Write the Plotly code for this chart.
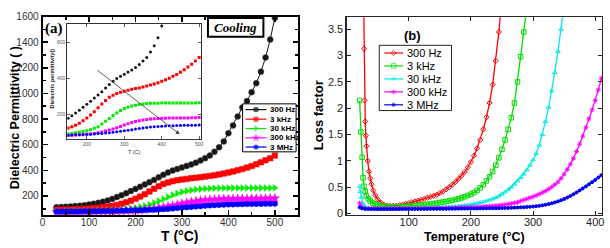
import plotly.graph_objects as go

W, H = 610, 248

# ---------------- Panel (a): dielectric permittivity (cooling) ----------------
temp_a = [30, 40, 50, 60, 70, 80, 90, 100, 110, 120, 130, 140, 150, 160, 170, 180,
          190, 200, 210, 220, 230, 240, 250, 260, 270, 280, 290, 300, 310, 320, 330,
          340, 350, 360, 370, 380, 390, 400, 410, 420, 430, 440, 450, 460, 470, 480,
          490, 500]
perm_300Hz = [112, 114, 116, 118, 121, 124, 128, 133, 139, 146, 155, 165, 177, 191, 206, 222,
              238, 255, 272, 290, 307, 325, 345, 365, 383, 398, 410, 422, 434, 446, 460,
              476, 495, 515, 545, 580, 625, 690, 750, 820, 890, 940, 1010, 1080, 1170, 1280,
              1420, 1590]
perm_3kHz = [92, 93, 94, 95, 96, 98, 100, 102, 105, 108, 112, 117, 123, 130, 139, 150,
             163, 178, 195, 214, 235, 256, 276, 294, 305, 315, 322, 328, 333, 338, 342,
             346, 351, 356, 362, 368, 375, 383, 391, 400, 410, 421, 433, 447, 462, 478,
             495, 515]
perm_30kHz = [80, 80, 81, 81, 82, 82, 83, 84, 85, 86, 87, 89, 91, 93, 96, 99,
              103, 108, 114, 121, 130, 145, 160, 176, 192, 207, 220, 231, 239, 245, 250,
              254, 257, 259, 260, 261, 261, 262, 262, 262, 262, 262, 262, 262, 262, 262,
              262, 263]
perm_300kHz = [75, 75, 76, 76, 76, 77, 77, 78, 78, 79, 80, 81, 82, 83, 84, 85,
               86, 88, 90, 93, 97, 101, 106, 112, 118, 125, 132, 140, 147, 153, 159,
               164, 168, 171, 173, 175, 176, 177, 177, 178, 178, 178, 179, 179, 179, 180,
               180, 181]
perm_3MHz = [78, 78, 78, 79, 79, 79, 80, 80, 81, 81, 82, 82, 83, 84, 85, 86,
             87, 88, 89, 90, 92, 93, 95, 97, 99, 102, 105, 108, 111, 114, 117,
             120, 123, 126, 128, 130, 132, 133, 134, 135, 136, 137, 137, 138, 138, 139,
             139, 140]

series_names = ["300 Hz", "3 kHz", "30 kHz", "300 kHz", "3 MHz"]
xticks_a = [0, 100, 200, 300, 400, 500]
yticks_a = [200, 400, 600, 800, 1000, 1200, 1400, 1600]
xticks_inset = [200, 300, 400, 500]
yticks_inset = [200, 400, 600]

# ---------------- Panel (b): loss factor ----------------
temp_b_300Hz = [27, 28, 29, 30, 31, 32, 34, 36, 38, 40, 43, 46, 50, 55, 60, 65, 70, 75, 80,
                85, 90, 95, 100, 105, 110, 115, 120, 125, 130, 135, 140, 145, 150, 155,
                160, 165, 170, 175, 180, 185, 190, 195, 200, 205, 210, 215, 220, 225, 230,
                235, 240, 245, 250]
loss_300Hz = [4.5, 3.13, 2.15, 1.75, 1.48, 1.28, 1.0, 0.8, 0.67, 0.56, 0.44, 0.35, 0.27, 0.21,
              0.17, 0.15, 0.145, 0.145, 0.15, 0.16, 0.17, 0.185, 0.2, 0.215, 0.23, 0.245,
              0.26, 0.28, 0.3, 0.32, 0.34, 0.36, 0.39, 0.42, 0.46, 0.5, 0.55, 0.6, 0.66,
              0.72, 0.79, 0.88, 0.98, 1.1, 1.24, 1.4, 1.6, 1.83, 2.1, 2.45, 2.9, 3.45, 4.1]

temp_b_3kHz = [21, 23, 25, 26.5, 28, 30, 32, 35, 38, 42, 46, 50, 55, 60, 65, 70, 75, 80, 85,
               90, 95, 100, 105, 110, 115, 120, 125, 130, 135, 140, 145, 150, 155, 160, 165,
               170, 175, 180, 185, 190, 195, 200, 205, 210, 215, 220, 225, 230, 235, 240,
               245, 250, 255, 260, 265, 270, 275, 280, 285, 290]
loss_3kHz = [2.15, 1.55, 1.07, 0.68, 0.52, 0.42, 0.34, 0.28, 0.24, 0.2, 0.18, 0.165, 0.15,
             0.14, 0.135, 0.13, 0.13, 0.13, 0.13, 0.133, 0.136, 0.14, 0.145, 0.15, 0.155,
             0.16, 0.168, 0.175, 0.183, 0.19, 0.2, 0.21, 0.22, 0.23, 0.243, 0.255, 0.268,
             0.28, 0.3, 0.32, 0.345, 0.37, 0.4, 0.44, 0.49, 0.55, 0.62, 0.7, 0.8, 0.92,
             1.06, 1.22, 1.4, 1.6, 1.82, 2.1, 2.5, 2.98, 3.45, 3.95]

temp_b_30kHz = [21, 22, 24, 26, 28, 30, 35, 40, 45, 50, 55, 60, 65, 70, 75, 80, 85, 90, 95,
                100, 105, 110, 115, 120, 125, 130, 135, 140, 145, 150, 155, 160, 165, 170,
                175, 180, 185, 190, 195, 200, 205, 210, 215, 220, 225, 230, 235, 240, 245,
                250, 255, 260, 265, 270, 275, 280, 285, 290, 295, 300, 305, 310, 315, 320,
                325, 330, 335, 340, 345, 350]
loss_30kHz = [0.52, 0.42, 0.31, 0.2, 0.15, 0.13, 0.11, 0.1, 0.098, 0.096, 0.095, 0.095, 0.095,
              0.095, 0.095, 0.096, 0.097, 0.098, 0.099, 0.1, 0.101, 0.102, 0.104, 0.106,
              0.108, 0.11, 0.112, 0.115, 0.118, 0.12, 0.123, 0.126, 0.13, 0.134, 0.138,
              0.143, 0.15, 0.157, 0.165, 0.175, 0.185, 0.197, 0.21, 0.225, 0.242, 0.26,
              0.28, 0.305, 0.335, 0.37, 0.41, 0.455, 0.505, 0.56, 0.62, 0.685, 0.755, 0.83,
              0.92, 1.02, 1.14, 1.3, 1.5, 1.75, 2.02, 2.33, 2.68, 3.08, 3.5, 3.95]

temp_b_300kHz = [21, 23, 25, 30, 35, 40, 45, 50, 55, 60, 65, 70, 75, 80, 85, 90, 95, 100,
                 105, 110, 115, 120, 125, 130, 135, 140, 145, 150, 155, 160, 165, 170, 175,
                 180, 185, 190, 195, 200, 205, 210, 215, 220, 225, 230, 235, 240, 245, 250,
                 255, 260, 265, 270, 275, 280, 285, 290, 295, 300, 305, 310, 315, 320, 325,
                 330, 335, 340, 345, 350, 355, 360, 365, 370, 375, 380, 385, 390, 395, 400,
                 405, 410]
loss_300kHz = [0.2, 0.14, 0.11, 0.1, 0.097, 0.095, 0.095, 0.095, 0.095, 0.095, 0.095, 0.095,
               0.095, 0.096, 0.096, 0.097, 0.097, 0.098, 0.098, 0.099, 0.099, 0.1, 0.1,
               0.101, 0.102, 0.103, 0.104, 0.105, 0.106, 0.107, 0.108, 0.11, 0.111, 0.113,
               0.115, 0.117, 0.119, 0.121, 0.123, 0.126, 0.129, 0.132, 0.136, 0.14, 0.145,
               0.15, 0.157, 0.165, 0.173, 0.182, 0.192, 0.203, 0.215, 0.24, 0.26, 0.28, 0.3,
               0.32, 0.345, 0.372, 0.4, 0.43, 0.465, 0.505, 0.55, 0.6, 0.67, 0.75, 0.84,
               0.94, 1.05, 1.18, 1.32, 1.47, 1.63, 1.8, 1.97, 2.15, 2.35, 2.57]

temp_b_3MHz = [21, 25, 30, 35, 40, 45, 50, 55, 60, 65, 70, 75, 80, 85, 90, 95, 100, 105,
               110, 115, 120, 125, 130, 135, 140, 145, 150, 155, 160, 165, 170, 175, 180,
               185, 190, 195, 200, 205, 210, 215, 220, 225, 230, 235, 240, 245, 250, 255,
               260, 265, 270, 275, 280, 285, 290, 295, 300, 305, 310, 315, 320, 325, 330,
               335, 340, 345, 350, 355, 360, 365, 370, 375, 380, 385, 390, 395, 400, 405,
               410]
loss_3MHz = [0.12, 0.1, 0.09, 0.088, 0.087, 0.086, 0.086, 0.086, 0.086, 0.086, 0.086, 0.086,
             0.087, 0.087, 0.087, 0.088, 0.088, 0.088, 0.089, 0.089, 0.09, 0.09, 0.09, 0.091,
             0.091, 0.092, 0.092, 0.093, 0.093, 0.094, 0.094, 0.095, 0.095, 0.096, 0.096,
             0.097, 0.097, 0.098, 0.098, 0.099, 0.1, 0.1, 0.101, 0.102, 0.103, 0.104, 0.105,
             0.107, 0.109, 0.111, 0.113, 0.116, 0.119, 0.122, 0.126, 0.13, 0.135, 0.141,
             0.148, 0.157, 0.168, 0.181, 0.196, 0.213, 0.232, 0.254, 0.278, 0.305, 0.335,
             0.368, 0.403, 0.44, 0.478, 0.517, 0.557, 0.598, 0.64, 0.685, 0.73]

xticks_b = [100, 200, 300, 400]
yticks_b = [0, 0.5, 1, 1.5, 2, 2.5, 3, 3.5]
yticklabels_b = ["0", "0.5", "1", "1.5", "2", "2.5", "3", "3.5"]

# ---------------- styling ----------------
SANS = "Liberation Sans, Arial, sans-serif"
SERIF = "Liberation Serif, Times New Roman, serif"
cols_a = ["#151515", "#ff0000", "#00f000", "#ff00ff", "#0000ff"]
syms_a = ["circle", "square", "triangle-right", "star", "circle"]
size_a = [6, 5.5, 6, 7, 5.5]
cols_b = ["#ff0000", "#00dd00", "#00e8e8", "#ff00ff", "#0000ee"]
syms_b = ["diamond-open", "square-open", "triangle-up-open", "asterisk-open", "circle"]
size_b = [4, 4.5, 4, 4, 3]


def fx(p):
    return p / W


def fy(p):
    return 1 - p / H


fig = go.Figure()

perm_all = [perm_300Hz, perm_3kHz, perm_30kHz, perm_300kHz, perm_3MHz]
for name, vals, c, s, sz in zip(series_names, perm_all, cols_a, syms_a, size_a):
    fig.add_trace(go.Scatter(
        x=temp_a, y=vals, mode="lines+markers", name=name, xaxis="x", yaxis="y",
        line=dict(color=c, width=1),
        marker=dict(symbol=s, size=sz, color=c,
                    line=dict(color="#555555" if c == "#151515" else c, width=0.5)),
        showlegend=False))

# inset: same data from 150 C on
for name, vals, c, s in zip(series_names, perm_all, cols_a, syms_a):
    xs = [t for t in temp_a if t >= 150]
    ys = [v for t, v in zip(temp_a, vals) if t >= 150]
    fig.add_trace(go.Scatter(
        x=xs, y=ys, mode="markers", xaxis="x2", yaxis="y2",
        marker=dict(symbol="square" if s != "circle" else "circle", size=3, color=c),
        showlegend=False))

loss_all = [(temp_b_300Hz, loss_300Hz), (temp_b_3kHz, loss_3kHz), (temp_b_30kHz, loss_30kHz),
            (temp_b_300kHz, loss_300kHz), (temp_b_3MHz, loss_3MHz)]
for name, (tt, vv), c, s, sz in zip(series_names, loss_all, cols_b, syms_b, size_b):
    fig.add_trace(go.Scatter(
        x=tt, y=vv, mode="lines+markers", name=name, xaxis="x3", yaxis="y3",
        line=dict(color=c, width=1.3),
        marker=dict(symbol=s, size=sz, color=c, line=dict(color=c, width=1)),
        showlegend=False))

# ---------- manual legends (pixel overlay axes x4/y4) ----------
leg_a_rows = [109, 119, 128.7, 138.4, 148]
for name, c, s, sz, yy in zip(series_names, cols_a, syms_a, size_a, leg_a_rows):
    fig.add_trace(go.Scatter(
        x=[245, 255.5, 266], y=[yy, yy, yy], mode="lines+markers", xaxis="x4", yaxis="y4",
        line=dict(color=c, width=1.2),
        marker=dict(symbol=s, size=[0, sz - 0.5, 0], color=c, line=dict(width=0)),
        showlegend=False, hoverinfo="skip"))

leg_b_rows = [50, 63.5, 77, 90.5, 104]
for name, c, s, sz, yy in zip(series_names, cols_b, syms_b, size_b, leg_b_rows):
    fig.add_trace(go.Scatter(
        x=[385, 394.5, 404], y=[yy, yy, yy], mode="lines+markers", xaxis="x4", yaxis="y4",
        line=dict(color=c, width=1.2),
        marker=dict(symbol=s, size=[0, sz, 0], color=c, line=dict(color=c, width=1)),
        showlegend=False, hoverinfo="skip"))

ann = []
for name, yy in zip(series_names, leg_a_rows):
    ann.append(dict(x=268, y=yy, xref="x4", yref="y4", text=name, showarrow=False,
                    xanchor="left", yanchor="middle",
                    font=dict(family=SANS, size=8, color="black", weight="bold")))
for name, yy in zip(series_names, leg_b_rows):
    ann.append(dict(x=406, y=yy, xref="x4", yref="y4", text=name, showarrow=False,
                    xanchor="left", yanchor="middle",
                    font=dict(family=SANS, size=11, color="black")))

# titles and labels
ann += [
    dict(x=12, y=117, xref="x4", yref="y4", text="Dielectric Permittivity ( )", textangle=-90,
         showarrow=False, font=dict(family=SANS, size=12.5, color="black", weight="bold")),
    dict(x=178, y=240.5, xref="x4", yref="y4", text="T (°C)", showarrow=False,
         font=dict(family=SANS, size=14, color="black", weight="bold")),
    dict(x=318, y=115, xref="x4", yref="y4", text="Loss factor", textangle=-90,
         showarrow=False, font=dict(family=SANS, size=13, color="black", weight="bold")),
    dict(x=476, y=241.5, xref="x4", yref="y4", text="Temperature (°C)", showarrow=False,
         font=dict(family=SANS, size=12.5, color="black", weight="bold")),
    dict(x=52, y=25, xref="x4", yref="y4", text="(a)", showarrow=False,
         font=dict(family=SERIF, size=15, color="black", weight="bold")),
    dict(x=414, y=32, xref="x4", yref="y4", text="(b)", showarrow=False,
         font=dict(family=SANS, size=13, color="black", weight="bold")),
    dict(x=235, y=23, xref="x4", yref="y4", text="Cooling", showarrow=False,
         font=dict(family=SERIF, size=13, color="black", weight="bold", style="italic")),
    dict(x=49, y=77, xref="x4", yref="y4", text="Dielectric permittivity()", textangle=-90,
         showarrow=False, font=dict(family=SANS, size=5.5, color="#222", weight="bold")),
    dict(x=133, y=153, xref="x4", yref="y4", text="T (C)", showarrow=False,
         font=dict(family=SANS, size=5.5, color="#333")),
    dict(x=448, y=88, xref="x2", yref="y2", ax=224, ay=451, axref="x2", ayref="y2",
         text="", showarrow=True, arrowhead=2, arrowsize=1, arrowwidth=0.8,
         arrowcolor="#333"),
]

shapes = [
    dict(type="rect", xref="x4", yref="y4", x0=242, y0=103, x1=296, y1=153,
         line=dict(color="black", width=1), fillcolor="white", layer="below"),
    dict(type="rect", xref="x4", yref="y4", x0=380, y0=42, x1=453, y1=110,
         line=dict(color="#222", width=1), fillcolor="white", layer="below"),
    dict(type="rect", xref="x4", yref="y4", x0=207, y0=13.5, x1=263, y1=33,
         line=dict(color="black", width=2), fillcolor="white", layer="below"),
]

tick_a = dict(ticks="inside", ticklen=5, tickwidth=1.5, tickcolor="black", showline=True,
              linewidth=2, linecolor="black", mirror="allticks", showgrid=False,
              zeroline=False, tickfont=dict(family=SANS, size=10, color="#333"))
tick_in = dict(ticks="inside", ticklen=3, tickwidth=0.8, tickcolor="#333", showline=True,
               linewidth=1, linecolor="#333", mirror="allticks", showgrid=False,
               zeroline=False, tickfont=dict(family=SANS, size=5, color="#555"))
tick_b = dict(ticks="inside", ticklen=4, tickwidth=1, tickcolor="#262626", showline=True,
              linewidth=1.2, linecolor="#262626", mirror="allticks", showgrid=False,
              zeroline=False, tickfont=dict(family=SANS, size=11, color="#262626"))

fig.update_layout(
    width=W, height=H, autosize=False,
    margin=dict(l=0, r=0, t=0, b=0, pad=0),
    paper_bgcolor="white", plot_bgcolor="rgba(0,0,0,0)",
    showlegend=False,
    xaxis=dict(domain=[fx(40), fx(298)], anchor="y", range=[0, 550], tickvals=xticks_a,
               ticklabelstandoff=-3,
               minor=dict(ticks="inside", ticklen=3, tickcolor="black", dtick=50, tick0=0,
                          showgrid=False), **tick_a),
    yaxis=dict(domain=[fy(219), fy(12)], anchor="x", range=[50, 1600], tickvals=yticks_a,
               minor=dict(ticks="inside", ticklen=3, tickcolor="black", dtick=100, tick0=0,
                          showgrid=False), **tick_a),
    xaxis2=dict(domain=[fx(65), fx(200)], anchor="y2", range=[148, 505],
                tickvals=xticks_inset, **tick_in),
    yaxis2=dict(domain=[fy(140), fy(20)], anchor="x2", range=[60, 700],
                tickvals=yticks_inset, **tick_in),
    xaxis3=dict(domain=[fx(347), fx(605)], anchor="y3", range=[0, 411], tickvals=xticks_b,
                ticklabelstandoff=-3, **tick_b),
    yaxis3=dict(domain=[fy(218.5), fy(12.7)], anchor="x3", range=[-0.02, 3.73],
                tickvals=yticks_b, ticktext=yticklabels_b, **tick_b),
    xaxis4=dict(domain=[0, 1], anchor="y4", range=[0, W], visible=False, fixedrange=True),
    yaxis4=dict(domain=[0, 1], anchor="x4", range=[H, 0], visible=False, fixedrange=True),
    annotations=ann,
    shapes=shapes,
)

fig.write_html("out.html", config={"displayModeBar": False, "staticPlot": True},
               post_script="document.body.style.margin='0';document.body.style.overflow='hidden';")
